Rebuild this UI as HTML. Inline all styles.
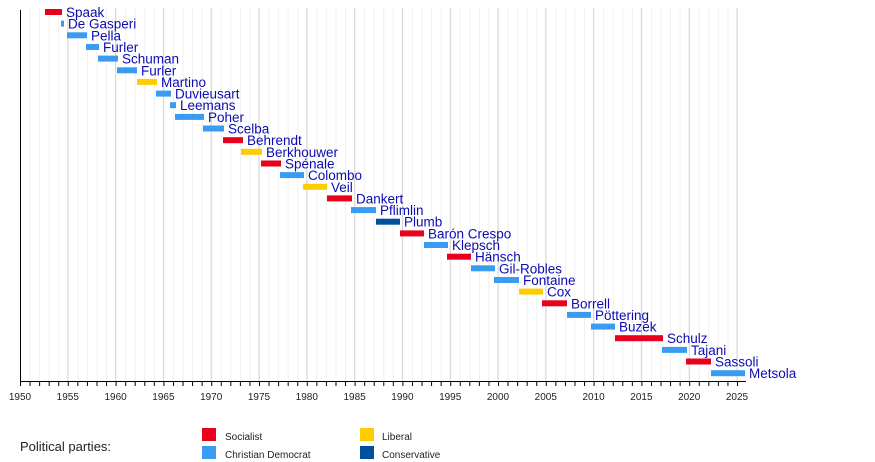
<!DOCTYPE html>
<html><head><meta charset="utf-8"><style>
html,body{margin:0;padding:0;background:#fff;width:875px;height:462px;overflow:hidden}
svg{display:block;font-family:"Liberation Sans",sans-serif}
.n{font-size:13.5px;fill:#0c0cb0}
.t{font-size:10px;fill:#222;text-anchor:middle}
.l{font-size:10px;fill:#222}
</style></head><body>
<svg width="875" height="462" viewBox="0 0 875 462">
<defs>
<pattern id="mg" x="20" y="0" width="9.56" height="400" patternUnits="userSpaceOnUse"><line x1="0.5" y1="0" x2="0.5" y2="400" stroke="#f0f0f0" stroke-width="1"/></pattern>
<pattern id="mt" x="20" y="0" width="9.56" height="10" patternUnits="userSpaceOnUse"><line x1="0.5" y1="0" x2="0.5" y2="10" stroke="#000" stroke-width="1"/></pattern>
</defs>
<rect x="20" y="8" width="726" height="373" fill="url(#mg)"/>
<g stroke="#d6d6d6" stroke-width="1">
<line x1="67.8" y1="8" x2="67.8" y2="381"/><line x1="115.6" y1="8" x2="115.6" y2="381"/><line x1="163.4" y1="8" x2="163.4" y2="381"/><line x1="211.2" y1="8" x2="211.2" y2="381"/><line x1="259" y1="8" x2="259" y2="381"/><line x1="306.8" y1="8" x2="306.8" y2="381"/><line x1="354.6" y1="8" x2="354.6" y2="381"/><line x1="402.4" y1="8" x2="402.4" y2="381"/><line x1="450.2" y1="8" x2="450.2" y2="381"/><line x1="498" y1="8" x2="498" y2="381"/><line x1="545.8" y1="8" x2="545.8" y2="381"/><line x1="593.6" y1="8" x2="593.6" y2="381"/><line x1="641.4" y1="8" x2="641.4" y2="381"/><line x1="689.2" y1="8" x2="689.2" y2="381"/><line x1="737" y1="8" x2="737" y2="381"/>
</g>
<rect x="20" y="382" width="726" height="4" fill="url(#mt)"/>
<line x1="20.5" y1="10" x2="20.5" y2="386" stroke="#000"/>
<line x1="20" y1="381.5" x2="746" y2="381.5" stroke="#000"/>
<g class="t">
<text x="20" y="400">1950</text><text x="67.8" y="400">1955</text><text x="115.6" y="400">1960</text><text x="163.4" y="400">1965</text><text x="211.2" y="400">1970</text><text x="259" y="400">1975</text><text x="306.8" y="400">1980</text><text x="354.6" y="400">1985</text><text x="402.4" y="400">1990</text><text x="450.2" y="400">1995</text><text x="498" y="400">2000</text><text x="545.8" y="400">2005</text><text x="593.6" y="400">2010</text><text x="641.4" y="400">2015</text><text x="689.2" y="400">2020</text><text x="737" y="400">2025</text>
</g>
<g>
<rect x="45" y="9" width="17" height="6" fill="#e8001c"/><text class="n" x="66" y="17">Spaak</text>
<rect x="61" y="20.6" width="3" height="6" fill="#3a9cf0"/><text class="n" x="68" y="28.7">De Gasperi</text>
<rect x="67" y="32.3" width="20" height="6" fill="#3a9cf0"/><text class="n" x="91" y="40.3">Pella</text>
<rect x="86" y="44" width="13" height="6" fill="#3a9cf0"/><text class="n" x="103" y="52">Furler</text>
<rect x="98" y="55.6" width="20" height="6" fill="#3a9cf0"/><text class="n" x="122" y="63.6">Schuman</text>
<rect x="117" y="67.3" width="20" height="6" fill="#3a9cf0"/><text class="n" x="141" y="75.3">Furler</text>
<rect x="137" y="78.9" width="20" height="6" fill="#ffcc00"/><text class="n" x="161" y="86.9">Martino</text>
<rect x="156" y="90.6" width="15" height="6" fill="#3a9cf0"/><text class="n" x="175" y="98.6">Duvieusart</text>
<rect x="170" y="102.2" width="6" height="6" fill="#3a9cf0"/><text class="n" x="180" y="110.2">Leemans</text>
<rect x="175" y="113.9" width="29" height="6" fill="#3a9cf0"/><text class="n" x="208" y="121.9">Poher</text>
<rect x="203" y="125.5" width="21" height="6" fill="#3a9cf0"/><text class="n" x="228" y="133.5">Scelba</text>
<rect x="223" y="137.2" width="20" height="6" fill="#e8001c"/><text class="n" x="247" y="145.2">Behrendt</text>
<rect x="241" y="148.8" width="21" height="6" fill="#ffcc00"/><text class="n" x="266" y="156.8">Berkhouwer</text>
<rect x="261" y="160.5" width="20" height="6" fill="#e8001c"/><text class="n" x="285" y="168.5">Spénale</text>
<rect x="280" y="172.1" width="24" height="6" fill="#3a9cf0"/><text class="n" x="308" y="180.1">Colombo</text>
<rect x="303" y="183.8" width="24" height="6" fill="#ffcc00"/><text class="n" x="331" y="191.8">Veil</text>
<rect x="327" y="195.4" width="25" height="6" fill="#e8001c"/><text class="n" x="356" y="203.4">Dankert</text>
<rect x="351" y="207.1" width="25" height="6" fill="#3a9cf0"/><text class="n" x="380" y="215.1">Pflimlin</text>
<rect x="376" y="218.7" width="24" height="6" fill="#0050a0"/><text class="n" x="404" y="226.7">Plumb</text>
<rect x="400" y="230.4" width="24" height="6" fill="#e8001c"/><text class="n" x="428" y="238.4">Barón Crespo</text>
<rect x="424" y="242" width="24" height="6" fill="#3a9cf0"/><text class="n" x="452" y="250">Klepsch</text>
<rect x="447" y="253.7" width="24" height="6" fill="#e8001c"/><text class="n" x="475" y="261.7">Hänsch</text>
<rect x="471" y="265.3" width="24" height="6" fill="#3a9cf0"/><text class="n" x="499" y="273.3">Gil-Robles</text>
<rect x="494" y="277" width="25" height="6" fill="#3a9cf0"/><text class="n" x="523" y="285">Fontaine</text>
<rect x="519" y="288.6" width="24" height="6" fill="#ffcc00"/><text class="n" x="547" y="296.6">Cox</text>
<rect x="542" y="300.3" width="25" height="6" fill="#e8001c"/><text class="n" x="571" y="308.3">Borrell</text>
<rect x="567" y="311.9" width="24" height="6" fill="#3a9cf0"/><text class="n" x="595" y="319.9">Pöttering</text>
<rect x="591" y="323.6" width="24" height="6" fill="#3a9cf0"/><text class="n" x="619" y="331.6">Buzek</text>
<rect x="615" y="335.2" width="48" height="6" fill="#e8001c"/><text class="n" x="667" y="343.2">Schulz</text>
<rect x="662" y="346.9" width="25" height="6" fill="#3a9cf0"/><text class="n" x="691" y="354.9">Tajani</text>
<rect x="686" y="358.5" width="25" height="6" fill="#e8001c"/><text class="n" x="715" y="366.5">Sassoli</text>
<rect x="711" y="370.2" width="34" height="6" fill="#3a9cf0"/><text class="n" x="749" y="378.2">Metsola</text>
</g>
<text x="20" y="451" font-size="13" fill="#222">Political parties:</text>
<rect x="202" y="428" width="14" height="13" fill="#e8001c"/><text class="l" x="225" y="440">Socialist</text>
<rect x="202" y="446" width="14" height="13" fill="#3a9cf0"/><text class="l" x="225" y="458">Christian Democrat</text>
<rect x="360" y="428" width="14" height="13" fill="#ffcc00"/><text class="l" x="382" y="440">Liberal</text>
<rect x="360" y="446" width="14" height="13" fill="#0050a0"/><text class="l" x="382" y="458">Conservative</text>
</svg>
</body></html>
